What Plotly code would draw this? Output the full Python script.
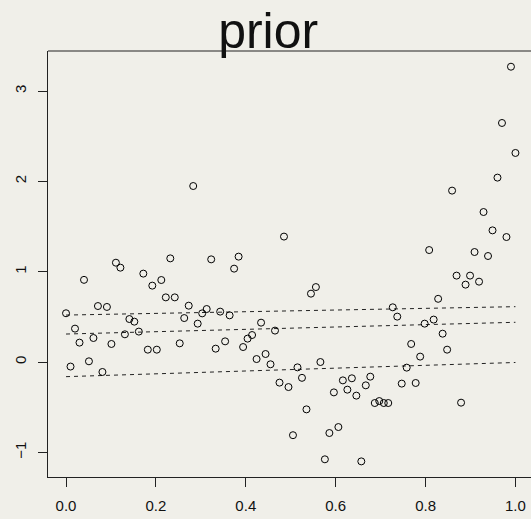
import plotly.graph_objects as go

# Observations: evenly spaced design points and noisy responses
x_obs = [0.000, 0.010, 0.020, 0.030, 0.040, 0.051, 0.061, 0.071, 0.081, 0.091,
         0.101, 0.111, 0.121, 0.131, 0.141, 0.152, 0.162, 0.172, 0.182, 0.192,
         0.202, 0.212, 0.222, 0.232, 0.242, 0.253, 0.263, 0.273, 0.283, 0.293,
         0.303, 0.313, 0.323, 0.333, 0.343, 0.354, 0.364, 0.374, 0.384, 0.394,
         0.404, 0.414, 0.424, 0.434, 0.444, 0.455, 0.465, 0.475, 0.485, 0.495,
         0.505, 0.515, 0.525, 0.535, 0.545, 0.556, 0.566, 0.576, 0.586, 0.596,
         0.606, 0.616, 0.626, 0.636, 0.646, 0.657, 0.667, 0.677, 0.687, 0.697,
         0.707, 0.717, 0.727, 0.737, 0.747, 0.758, 0.768, 0.778, 0.788, 0.798,
         0.808, 0.818, 0.828, 0.838, 0.848, 0.859, 0.869, 0.879, 0.889, 0.899,
         0.909, 0.919, 0.929, 0.939, 0.949, 0.960, 0.970, 0.980, 0.990, 1.000]

y_obs = [0.54, -0.05, 0.37, 0.215, 0.91, 0.008, 0.266, 0.62, -0.11, 0.61,
         0.20, 1.10, 1.045, 0.307, 0.476, 0.447, 0.337, 0.979, 0.137, 0.846,
         0.137, 0.908, 0.716, 1.148, 0.716, 0.207, 0.487, 0.624, 1.949, 0.425,
         0.539, 0.587, 1.137, 0.148, 0.558, 0.229, 0.517, 1.034, 1.167, 0.166,
         0.259, 0.299, 0.033, 0.436, 0.089, -0.025, 0.348, -0.228, 1.389, -0.277,
         -0.81, -0.059, -0.175, -0.524, 0.757, 0.83, 0.0, -1.077, -0.786, -0.336,
         -0.72, -0.203, -0.306, -0.18, -0.372, -1.10, -0.258, -0.162, -0.454, -0.432,
         -0.454, -0.454, 0.606, 0.503, -0.239, -0.062, 0.20, -0.232, 0.06, 0.425,
         1.24, 0.47, 0.70, 0.314, 0.137, 1.898, 0.957, -0.45, 0.857, 0.957,
         1.218, 0.89, 1.661, 1.174, 1.458, 2.042, 2.647, 1.384, 3.27, 2.315]

# Fitted quantile lines (endpoints at x = 0 and x = 1)
line_x = [0.0, 1.0]
q_upper = [0.52, 0.613]
q_middle = [0.31, 0.44]
q_lower = [-0.162, -0.005]

x_ticks = [0.0, 0.2, 0.4, 0.6, 0.8, 1.0]
x_tick_text = ["0.0", "0.2", "0.4", "0.6", "0.8", "1.0"]
y_ticks = [-1, 0, 1, 2, 3]
y_tick_text = ["\u22121", "0", "1", "2", "3"]

BG = "#f0efe9"
FONT = "Liberation Sans, Helvetica, Arial, sans-serif"
AXIS_COLOR = "#222222"

fig = go.Figure()

for q in (q_upper, q_middle, q_lower):
    fig.add_trace(go.Scatter(
        x=line_x, y=q, mode="lines",
        line=dict(color=AXIS_COLOR, width=1, dash="4px,4px"),
        hoverinfo="skip", showlegend=False,
    ))

fig.add_trace(go.Scatter(
    x=x_obs, y=y_obs, mode="markers",
    marker=dict(symbol="circle-open", size=7, color="black",
                line=dict(width=1, color="black")),
    showlegend=False,
))

# top edge of the plotting box
fig.add_shape(type="line", xref="paper", yref="paper",
              x0=0, x1=1, y0=1, y1=1,
              line=dict(color=AXIS_COLOR, width=1.2), layer="above")

fig.update_layout(
    width=531, height=519,
    margin=dict(l=48, r=0, t=51, b=42),
    paper_bgcolor=BG, plot_bgcolor=BG,
    font=dict(family=FONT, color="#111111", size=15),
    title=dict(text="prior", x=0.505, xanchor="center", y=0.942,
               yanchor="middle", yref="container",
               font=dict(family=FONT, size=50, color="#111111")),
    xaxis=dict(range=[-0.0401, 1.0346], tickvals=x_ticks, ticktext=x_tick_text,
               showgrid=False, zeroline=False, showline=True, mirror=False,
               linecolor=AXIS_COLOR, linewidth=1.2, ticks="outside", ticklen=9,
               tickcolor=AXIS_COLOR, tickwidth=1, ticklabelstandoff=6),
    yaxis=dict(range=[-1.273, 3.444], tickvals=y_ticks, ticktext=y_tick_text,
               showgrid=False, zeroline=False, showline=True, mirror=False,
               linecolor=AXIS_COLOR, linewidth=1.2, ticks="outside", ticklen=9,
               tickcolor=AXIS_COLOR, tickwidth=1, tickangle=-90,
               ticklabelstandoff=6),
)

fig.write_html("out.html")
